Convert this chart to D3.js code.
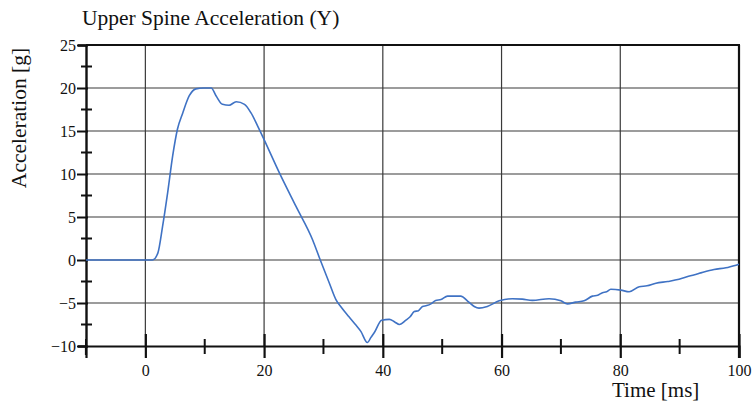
<!DOCTYPE html>
<html>
<head>
<meta charset="utf-8">
<script src="https://cdn.jsdelivr.net/npm/d3@7"></script>
<style>
  html, body { margin: 0; padding: 0; background: #fff; }
  svg { display: block; }
  text { font-family: "Liberation Serif", "Times New Roman", serif; fill: #111; }
</style>
</head>
<body>
<svg id="chart" width="755" height="404"></svg>
<script>
// ---- data ----
const time = [-10, 0, 1.2, 2.1, 2.9, 3.75, 4.6, 5.4, 6.3, 7.4, 8.5, 9.8, 11.1, 11.9, 13, 14.1, 15.3, 16.7, 17.8, 18.9, 20,
  22.6, 25.4, 28.2, 29.3, 31, 32.1, 33, 34.3, 35.5, 36.3, 37.4, 38.0, 38.6, 39.8, 41.1, 42.0, 42.8, 43.9, 44.6, 45.3,
  46.0, 46.7, 47.4, 48.1, 48.9, 49.8, 50.9, 52.0, 53.1, 54.5, 55.4, 56.2, 57.6, 59.6, 61.8, 63.5, 65.2, 68, 70, 71.1,
  72.5, 73.9, 75.3, 76.2, 77, 77.7, 78.4, 80.1, 81.5, 83.2, 84.5, 86, 88, 89.9, 91.5, 93.3, 95.8, 97.8, 99.5, 100];
const accel = [0, 0, 0, 0.8, 3.9, 7.8, 12.1, 15.2, 17.1, 19.1, 19.9, 20.0, 20.0, 19.1, 18.1, 18.0, 18.4, 18.1, 17.1, 15.6, 14.0,
  10.1, 6.2, 2.3, 0.3, -2.7, -4.6, -5.5, -6.6, -7.6, -8.3, -9.6, -9.0, -8.4, -7.0, -6.9, -7.2, -7.5, -7.0, -6.6, -6.0,
  -5.9, -5.4, -5.3, -5.1, -4.7, -4.6, -4.2, -4.2, -4.2, -4.9, -5.4, -5.6, -5.4, -4.75, -4.5, -4.55, -4.7, -4.5, -4.75, -5.1,
  -4.9, -4.75, -4.2, -4.1, -3.8, -3.7, -3.4, -3.5, -3.7, -3.1, -3.0, -2.7, -2.5, -2.25, -1.9, -1.55, -1.1, -0.9, -0.6, -0.5];

const xMajorTicks = [0, 20, 40, 60, 80, 100];
const xMinorTicks = [-10, 10, 30, 50, 70, 90];
const yMajorTicks = [-10, -5, 0, 5, 10, 15, 20, 25];
const yMinorTicks = [-7.5, -2.5, 2.5, 7.5, 12.5, 17.5, 22.5];

const titleText = "Upper Spine Acceleration (Y)";
const xLabel = "Time [ms]";
const yLabel = "Acceleration [g]";

// ---- layout ----
const svg = d3.select("#chart");
const L = 86, R = 739, T = 45, B = 346;
const x = d3.scaleLinear().domain([-10, 100]).range([L, R]);
const y = d3.scaleLinear().domain([-10, 25]).range([B, T]);

// grid
const grid = svg.append("g").attr("stroke", "#3a3a3a").attr("stroke-width", 1.2);
grid.selectAll("line.h").data(yMajorTicks.filter(d => d > -10 && d < 25)).join("line")
  .attr("x1", L).attr("x2", R).attr("y1", d => y(d)).attr("y2", d => y(d));
grid.selectAll("line.v").data(xMajorTicks.filter(d => d < 100)).join("line")
  .attr("x1", d => x(d)).attr("x2", d => x(d)).attr("y1", T).attr("y2", B);

// frame
svg.append("line").attr("x1", L).attr("x2", R + 1).attr("y1", T).attr("y2", T).attr("stroke", "#111").attr("stroke-width", 2.2);
svg.append("line").attr("x1", R).attr("x2", R).attr("y1", T).attr("y2", B + 12).attr("stroke", "#111").attr("stroke-width", 2.2);

// x axis
const xAxis = svg.append("g").attr("transform", `translate(0,${B})`)
  .call(d3.axisBottom(x).tickValues(xMajorTicks).tickSize(12).tickFormat(d3.format("d")));
xAxis.select(".domain").attr("stroke", "#111").attr("stroke-width", 2.2);
xAxis.selectAll(".tick line").attr("stroke", "#111").attr("stroke-width", 2.2).attr("y1", -12);
xAxis.selectAll(".tick text").attr("font-family", "Liberation Serif").attr("font-size", 16).attr("fill", "#111")
  .attr("y", 19).attr("dy", "0.71em");
svg.append("g").selectAll("line").data(xMinorTicks).join("line")
  .attr("x1", d => x(d)).attr("x2", d => x(d)).attr("y1", B - 7).attr("y2", B + 8)
  .attr("stroke", "#111").attr("stroke-width", 2);

// y axis
const yAxis = svg.append("g").attr("transform", `translate(${L},0)`)
  .call(d3.axisLeft(y).tickValues(yMajorTicks).tickSize(8).tickFormat(d3.format("d")));
yAxis.select(".domain").attr("stroke", "#111").attr("stroke-width", 2.4);
yAxis.selectAll(".tick line").attr("stroke", "#111").attr("stroke-width", 2).attr("x2", -9).attr("x1", 2);
yAxis.selectAll(".tick text").attr("font-family", "Liberation Serif").attr("font-size", 16).attr("fill", "#111").attr("x", -10);
svg.append("g").selectAll("line").data(yMinorTicks).join("line")
  .attr("x1", L - 5).attr("x2", L + 6).attr("y1", d => y(d)).attr("y2", d => y(d))
  .attr("stroke", "#111").attr("stroke-width", 2);
// y axis extension below x axis
svg.append("line").attr("x1", L).attr("x2", L).attr("y1", B).attr("y2", B + 9).attr("stroke", "#111").attr("stroke-width", 2.2);

// data line
const line = d3.line().x((d, i) => x(time[i])).y(d => y(d)).curve(d3.curveMonotoneX);
svg.append("path").datum(accel).attr("d", line)
  .attr("fill", "none").attr("stroke", "#3f72c4").attr("stroke-width", 1.6).attr("stroke-linejoin", "round");

// texts
svg.append("text").attr("x", 82).attr("y", 25).attr("font-size", 21.5).text(titleText);
svg.append("text").attr("x", 612).attr("y", 397).attr("font-size", 21).text(xLabel);
svg.append("text").attr("transform", "translate(26,118) rotate(-90)").attr("text-anchor", "middle")
  .attr("font-size", 21.5).text(yLabel);
</script>
</body>
</html>
